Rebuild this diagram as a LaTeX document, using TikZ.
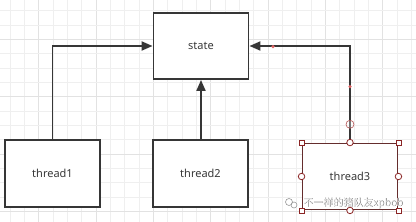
\documentclass[tikz,border=0pt]{standalone}
\usepackage{fontspec}
\setmainfont{Noto Sans}
\newfontfamily\cjk{Noto Sans CJK SC}
\usetikzlibrary{arrows.meta}
\definecolor{gridminor}{HTML}{EFEFEF}
\definecolor{gridmajor}{HTML}{E2E2E2}
\definecolor{boxline}{HTML}{363636}
\definecolor{handle}{HTML}{8B2525}
\definecolor{dotred}{HTML}{E06666}
\tikzset{
  x=1pt, y=-1pt,
  box/.style={draw=boxline, line width=1.9pt, fill=white, minimum width=94pt, minimum height=66pt, inner sep=0pt, font=\fontsize{11}{13}\selectfont, text=black!78},
  conn/.style={draw=boxline, line width=1.9pt, -{Triangle[length=11pt,width=9pt]}},
  sqh/.style={draw=handle, fill=white, line width=0.8pt, minimum size=5pt, inner sep=0pt},
  cih/.style={draw=handle, fill=white, line width=0.8pt, circle, minimum size=6.5pt, inner sep=0pt},
  reddot/.style={fill=dotred, circle, minimum size=3.5pt, inner sep=0pt}
}
\begin{document}
\begin{tikzpicture}
\useasboundingbox (0,0) rectangle (416,222);
\fill[white] (0,0) rectangle (416,222);
% grid
\foreach \i in {0,...,28} {
  \pgfmathsetmacro{\xx}{10+14.333*\i}
  \pgfmathtruncatemacro{\m}{mod(\i,4)==2 ? 1 : 0}
  \ifnum\m=1
    \draw[gridmajor, line width=0.8pt] (\xx,0) -- (\xx,222);
  \else
    \draw[gridminor, line width=0.8pt] (\xx,0) -- (\xx,222);
  \fi
}
\foreach \i in {0,...,15} {
  \pgfmathsetmacro{\yy}{10.7+14.333*\i}
  \pgfmathtruncatemacro{\m}{mod(\i,4)==2 ? 1 : 0}
  \ifnum\m=1
    \draw[gridmajor, line width=0.8pt] (0,\yy) -- (416,\yy);
  \else
    \draw[gridminor, line width=0.8pt] (0,\yy) -- (416,\yy);
  \fi
}
% boxes
\node[box, minimum width=95pt, minimum height=66pt] (state) at (201,46) {state};
\node[box, minimum width=95pt, minimum height=67pt] (t1) at (52.5,173.5) {thread1};
\node[box, minimum width=95pt, minimum height=67pt] (t2) at (200.5,173.5) {thread2};
\node[box, draw=handle!55!boxline, minimum width=95pt, minimum height=66pt] (t3) at (350,176.5) {thread3};
% connectors
\coordinate (c1) at (t1.north |- state.west);
\coordinate (c3) at (t3.north |- state.east);
\draw[conn] (t1.north) -- (c1) -- (state.west);
\draw[conn] (t2.north -| state.south) -- (state.south);
\draw[conn] (t3.north) -- (c3) -- (state.east);
% red waypoints
\node[reddot] (d1) at (273,46.7) {};
\node[reddot] (d2) at (350,86.7) {};
% selection handles
\node[circle, draw=dotred!80!black, line width=0.6pt, minimum size=8pt, inner sep=0pt, fill=white, fill opacity=0.3] (rot) at (350,124.3) {};
\node[sqh] (h1) at (t3.north west) {};
\node[sqh] (h2) at (t3.north east) {};
\node[sqh] (h3) at (t3.south west) {};
\node[sqh] (h4) at (t3.south east) {};
\node[cih] (h5) at (t3.north) {};
\node[cih] (h6) at (t3.south) {};
\node[cih] (h7) at (t3.west) {};
\node[cih] (h8) at (t3.east) {};
% watermark
\node[font=\cjk\fontsize{10}{12}\selectfont, text=black!70, anchor=west, inner sep=0pt] (wm0) at (303.5,203.5) {不一样的猪队友xpbob};
\node[font=\cjk\fontsize{10}{12}\selectfont, text=white, anchor=west, inner sep=0pt] (wm) at (303,203) {不一样的猪队友xpbob};
\draw[black!40, line width=0.6pt] (289,202) circle (3.5pt);
\draw[black!40, line width=0.6pt] (294,205) circle (3pt);
\end{tikzpicture}
\end{document}
